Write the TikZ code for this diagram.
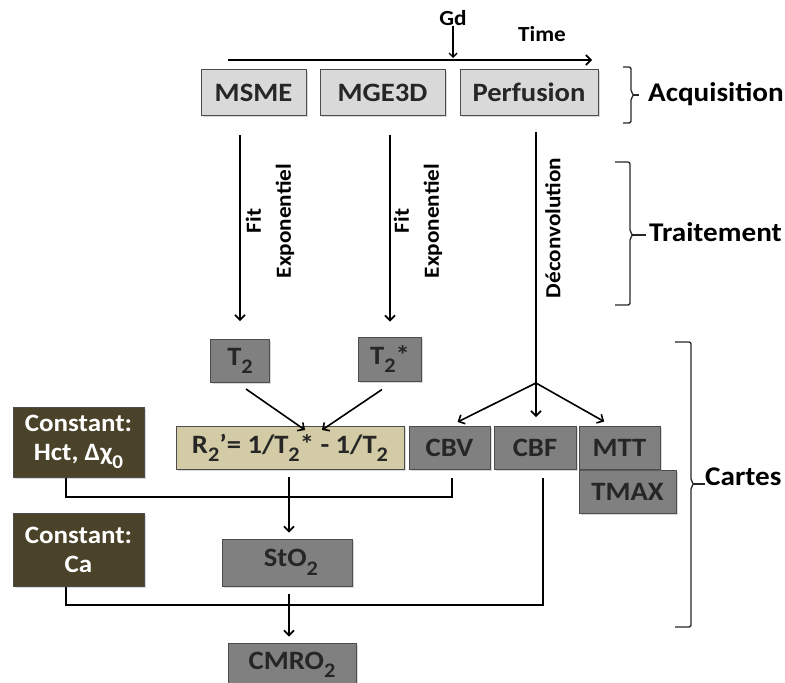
\documentclass[tikz,border=0pt]{standalone}
\usepackage{fontspec}
\setmainfont{Carlito}[FakeStretch=1.08]
\usetikzlibrary{arrows.meta,shadows}
\definecolor{acqgray}{HTML}{D9D9D9}
\definecolor{mapgray}{HTML}{808080}
\definecolor{olivebox}{HTML}{4A4229}
\definecolor{beigebox}{HTML}{D3CBA5}
\newcommand\lowsub[1]{\raisebox{-0.32em}{\scalebox{0.78}{#1}}}
\begin{document}
\begin{tikzpicture}[x=1pt,y=-1pt,
  box/.style={draw=black!70, line width=1pt, inner sep=0pt,
    font=\bfseries\fontsize{26.5}{29}\selectfont,
    drop shadow={shadow xshift=1.5pt,shadow yshift=-1.5pt,opacity=0.3}},
  acqbox/.style={box, fill=acqgray, text=black!85},
  mapbox/.style={box, fill=mapgray, text=black!85},
  constbox/.style={box, fill=olivebox, text=white, align=center, font=\bfseries\fontsize{25}{29}\selectfont},
  eqbox/.style={box, fill=beigebox, text=black!85},
  arr/.style={line width=1.6pt, -{Straight Barb[length=5pt,width=10pt,line width=1.6pt]}},
  conn/.style={line width=1.6pt},
  brc/.style={line width=1.3pt, black!85, rounded corners=2pt},
  lab/.style={font=\bfseries\fontsize{27}{29}\selectfont, inner sep=0pt},
  steplab/.style={font=\bfseries\fontsize{21.5}{30}\selectfont, rotate=90, align=center, inner sep=0pt},
  small/.style={font=\bfseries\fontsize{21.5}{23}\selectfont, inner sep=0pt}
]
\useasboundingbox (0,0) rectangle (785,683);
\clip (0,0) rectangle (785,683);

% Acquisition row
\node[acqbox, minimum width=105pt, minimum height=46pt] (msme) at (253.5,92.5) {MSME};
\node[acqbox, minimum width=125pt, minimum height=46pt] (mge) at (382.5,92.5) {MGE3D};
\node[acqbox, minimum width=138pt, minimum height=46pt] (perf) at (529,92.5) {Perfusion};

% time axis
\coordinate (t0) at (228,60);
\coordinate (t1) at (592,60);
\coordinate (tgd) at (453,58);
\draw[arr] (t0) -- (t1);
\node[small] (gd) at (453,18) {Gd};
\node[small] (time) at (542,34) {Time};
\draw[line width=1.3pt, -{Straight Barb[length=4pt,width=8pt,line width=1.3pt]}] (gd.south) -- (tgd);

% maps
\node[mapbox, minimum width=59pt, minimum height=43pt] (t2) at (240,361) {T\lowsub{2}};
\node[mapbox, minimum width=63pt, minimum height=44pt] (t2s) at (390,359) {T\lowsub{2}*};
\node[eqbox, minimum width=228pt, minimum height=43pt] (r2) at (290,448) {R\lowsub{2}’= 1/T\lowsub{2}* - 1/T\lowsub{2}};
\node[constbox, minimum width=131pt, minimum height=70pt] (hct) at (78.5,442) {Constant:\\Hct, Δχ\lowsub{0}};
\node[mapbox, minimum width=81pt, minimum height=43pt] (cbv) at (449.5,448) {CBV};
\node[mapbox, minimum width=82pt, minimum height=43pt] (cbf) at (535,448) {CBF};
\node[mapbox, minimum width=97pt, minimum height=43pt] (tmax) at (627.5,491.5) {TMAX};
\node[mapbox, minimum width=81pt, minimum height=43pt] (mtt) at (619.5,448) {MTT};
\node[constbox, minimum width=131pt, minimum height=73pt] (ca) at (78.5,549.5) {Constant:\\Ca};
\node[mapbox, minimum width=130pt, minimum height=47pt] (sto2) at (287,562.5) {\hspace*{8pt}StO\lowsub{2}};
\node[mapbox, minimum width=128pt, minimum height=44pt] (cmro2) at (292,665) {CMRO\lowsub{2}};

% processing arrows
\draw[arr, shorten <=19pt, shorten >=18pt] (t2.north |- msme.south) -- (t2.north);
\node[steplab] (fit1) at (270,221) {Fit\\Exponentiel};
\draw[arr, shorten <=19pt, shorten >=15pt] (t2s.north |- mge.south) -- (t2s.north);
\node[steplab] (fit2) at (418,221) {Fit\\Exponentiel};

\coordinate (split) at (536,383);
\draw[conn, shorten <=16pt] (split |- perf.south) -- (split);
\node[steplab] (dec) at (553,228) {Déconvolution};
\draw[arr, shorten >=9pt] (split) -- (cbv.north);
\draw[arr, shorten >=9pt] (split) -- (split |- cbf.north);
\draw[arr, shorten >=9pt] (split) -- (mtt.north -| 612,0);

% T2 -> R2'
\draw[arr] ([xshift=6pt,yshift=-6pt]t2.south) -- ([xshift=15pt,yshift=-4pt]r2.north);
\draw[arr] ([xshift=-8pt,yshift=-8pt]t2s.south) -- ([xshift=32pt,yshift=-4pt]r2.north);

% Hct + CBV line
\draw[conn] (hct.south -| 66,0) -- (66,497) -- (452,497) -- ([yshift=-8pt]cbv.south -| 452,0);
% R2' -> StO2
\draw[arr, shorten <=7pt, shorten >=6pt] (r2.south -| 289,0) -- (sto2.north -| 289,0);
% Ca + CBF line
\draw[conn] (ca.south -| 66,0) -- (66,605) -- (543,605) -- ([yshift=-8pt]cbf.south -| 543,0);
% StO2 -> CMRO2
\draw[arr, shorten <=7pt, shorten >=6pt] (sto2.south -| 289,0) -- (cmro2.north -| 289,0);

% braces
\draw[brc] (623,67) -- (631,67) -- (631,92) -- (634,95) -- (631,98) -- (631,123) -- (623,123);
\draw[line width=1.3pt, black!85] (633,95) -- (639,95);
\node[lab, anchor=base west] (acq) at (648,101) {Acquisition};

\draw[brc] (615,162) -- (630,162) -- (630,232) -- (633,235) -- (630,238) -- (630,305) -- (615,305);
\draw[line width=1.3pt, black!85] (632,235) -- (646,235);
\node[lab, anchor=base west] (trt) at (649,241) {Traitement};

\draw[brc] (675,342) -- (691,342) -- (691,481) -- (694,484) -- (691,487) -- (691,627) -- (675,627);
\draw[line width=1.3pt, black!85] (693,484) -- (705,484);
\node[lab, anchor=base west] (cartes) at (705,485) {Cartes};
\end{tikzpicture}
\end{document}
